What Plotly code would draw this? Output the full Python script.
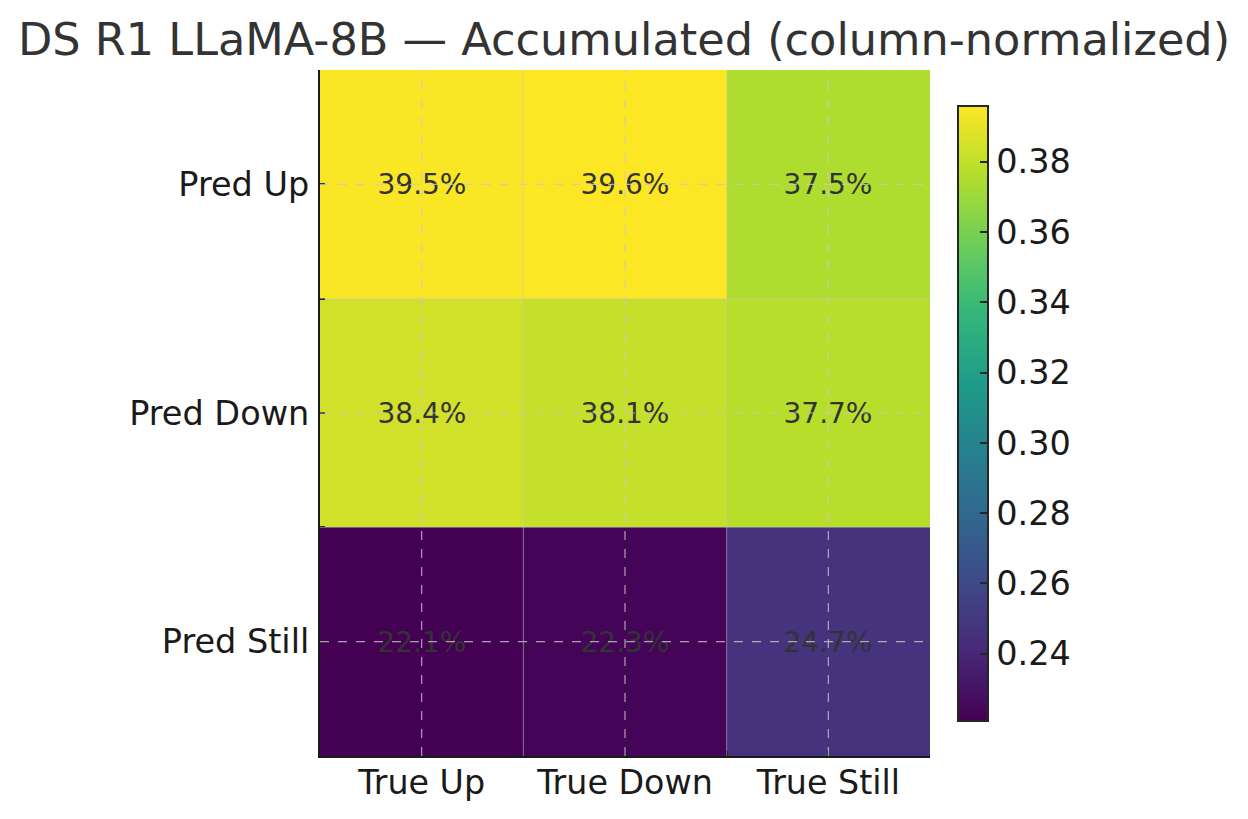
import plotly.graph_objects as go

true_labels = ["True Up", "True Down", "True Still"]
pred_labels = ["Pred Up", "Pred Down", "Pred Still"]
row_up = [0.395, 0.396, 0.375]
row_down = [0.384, 0.381, 0.377]
row_still = [0.221, 0.223, 0.247]
z = [row_up, row_down, row_still]
text = [[f"{v*100:.1f}%" for v in row] for row in z]
cbar_ticks = [0.24, 0.26, 0.28, 0.30, 0.32, 0.34, 0.36, 0.38]

FONT = "DejaVu Sans"
xs = list(range(len(true_labels)))
ys = list(range(len(pred_labels)))
edges = [-0.5, 0.5, 1.5, 2.5]

fig = go.Figure(go.Heatmap(
    z=z, x=xs, y=ys, colorscale="Viridis",
    zmin=min(min(r) for r in z), zmax=max(max(r) for r in z),
    text=text, texttemplate="%{text}",
    textfont=dict(family=FONT, size=28, color="#333333"),
    hoverinfo="skip",
    colorbar=dict(
        thickness=30, lenmode="pixels", len=615,
        x=1.0465, xanchor="left", y=0.5, yanchor="middle",
        xpad=0, ypad=0,
        outlinewidth=2, outlinecolor="#262626",
        ticks="inside", ticklen=9, tickwidth=2, tickcolor="#262626",
        tickvals=cbar_ticks, ticktext=[f"{t:.2f}" for t in cbar_ticks],
        tickfont=dict(family=FONT, size=33.5, color="#1a1a1a"),
        ticklabelposition="outside",
    ),
))

shapes = []
# cell borders
for b in [0.5, 1.5]:
    shapes.append(dict(type="line", xref="x", yref="paper", x0=b, x1=b, y0=0, y1=1,
                       line=dict(color="rgba(200,200,200,0.55)", width=1), layer="above"))
    shapes.append(dict(type="line", xref="paper", yref="y", x0=0, x1=1, y0=b, y1=b,
                       line=dict(color="rgba(200,200,200,0.55)", width=1), layer="above"))
# dashed gridlines at tick centers
for c in xs:
    shapes.append(dict(type="line", xref="x", yref="paper", x0=c, x1=c, y0=0, y1=1,
                       line=dict(color="rgba(200,200,200,0.8)", width=1.2, dash="dash"), layer="above"))
for c in ys:
    shapes.append(dict(type="line", xref="paper", yref="y", x0=0, x1=1, y0=c, y1=c,
                       line=dict(color="rgba(200,200,200,0.8)", width=1.2, dash="dash"), layer="above"))

fig.update_layout(
    width=1248, height=819,
    margin=dict(l=312, r=326, t=62, b=71),
    paper_bgcolor="white", plot_bgcolor="white",
    title=dict(text="DS R1 LLaMA-8B — Accumulated (column-normalized)",
               x=0.4936, xanchor="center", y=0.962, yanchor="middle",
               font=dict(family=FONT, size=44.6, color="#333333")),
    shapes=shapes,
    font=dict(family=FONT),
)
fig.update_xaxes(range=[-0.5, 2.5], tickvals=xs, ticktext=true_labels,
                 showline=True, linecolor="#1a1a1a", linewidth=2, mirror=False,
                 ticks="inside", ticklen=5, tickwidth=2, tickcolor="#1a1a1a",
                 minor=dict(tickvals=edges, ticks="inside", ticklen=5, tickwidth=2,
                            tickcolor="#1a1a1a", showgrid=False),
                 ticklabelstandoff=-4,
                 showgrid=False, zeroline=False,
                 tickfont=dict(family=FONT, size=33.3, color="#1a1a1a"))
fig.update_yaxes(range=[2.5, -0.5], tickvals=ys, ticktext=pred_labels,
                 showline=True, linecolor="#1a1a1a", linewidth=2, mirror=False,
                 ticks="inside", ticklen=5, tickwidth=2, tickcolor="#1a1a1a",
                 minor=dict(tickvals=edges, ticks="inside", ticklen=5, tickwidth=2,
                            tickcolor="#1a1a1a", showgrid=False),
                 ticklabelstandoff=2,
                 showgrid=False, zeroline=False,
                 tickfont=dict(family=FONT, size=33.5, color="#1a1a1a"))

fig.write_html("out.html")
